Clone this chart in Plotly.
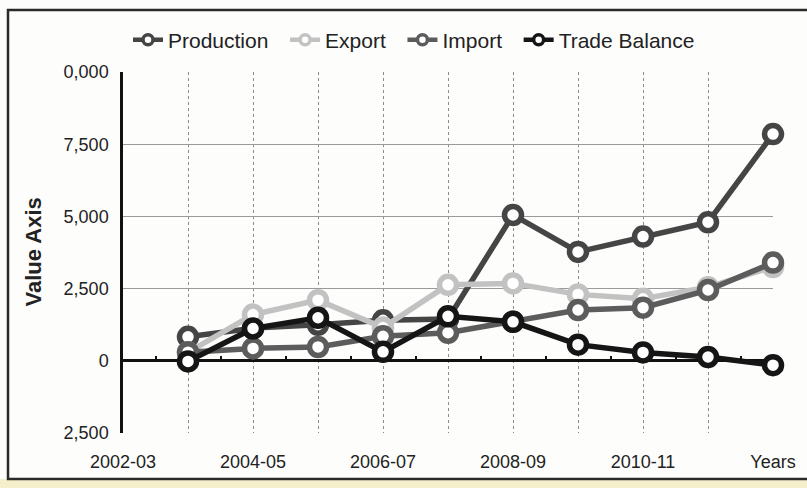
import plotly.graph_objects as go

categories = ["2002-03", "2003-04", "2004-05", "2005-06", "2006-07", "2007-08",
              "2008-09", "2009-10", "2010-11", "2011-12", "Years"]
periods = categories[1:]

production = [830, 1130, 1250, 1400, 1450, 5050, 3770, 4300, 4800, 7850]
export = [290, 1600, 2100, 1150, 2630, 2680, 2300, 2150, 2550, 3250]
imports = [300, 430, 480, 850, 970, 1350, 1760, 1840, 2450, 3400]
trade_balance = [-20, 1120, 1490, 310, 1540, 1350, 560, 290, 130, -150]

ytick_vals = [-2500, 0, 2500, 5000, 7500, 10000]
ytick_text = ["2,500", "0", "2,500", "5,000", "7,500", "0,000"]

xpos = [categories.index(p) for p in periods]
xtick_vals = list(range(len(categories)))
xtick_text = [c if i % 2 == 0 else "" for i, c in enumerate(categories)]

series = [
    ("Production", production, "#454545"),
    ("Export", export, "#c2c2c2"),
    ("Import", imports, "#5c5c5c"),
    ("Trade Balance", trade_balance, "#151515"),
]

fig = go.Figure()
for name, vals, col in series:
    fig.add_trace(go.Scatter(
        x=xpos, y=vals, name=name, mode="lines+markers",
        line=dict(color=col, width=5.5),
        marker=dict(symbol="circle", size=17, color="white",
                    line=dict(color=col, width=5.5)),
        cliponaxis=False, showlegend=False, legendgroup=name,
    ))
# legend entries (smaller symbols, as in the original legend)
for name, vals, col in series:
    fig.add_trace(go.Scatter(
        x=[None], y=[None], name=name + "\u00a0\u00a0", mode="lines+markers",
        line=dict(color=col, width=4.5),
        marker=dict(symbol="circle", size=10, color="white",
                    line=dict(color=col, width=3.5)),
        legendgroup=name, hoverinfo="skip",
    ))

# minor tick marks on the zero line between categories
fig.add_trace(go.Scatter(x=[0.5], y=[None], xaxis="x2", showlegend=False,
                         hoverinfo="skip"))

W, H = 807, 488
L, R, T, B = 123, 34, 72, 55
pw, ph = W - L - R, H - T - B


def px(x):
    return (x - L) / pw


def py(y):
    return (H - B - y) / ph


fig.update_layout(
    width=W, height=H,
    margin=dict(l=L, r=R, t=T, b=B),
    paper_bgcolor="#fdfdfc",
    plot_bgcolor="#fdfdfc",
    font=dict(family="Liberation Sans, Arial, sans-serif", color="#222"),
    showlegend=True,
    legend=dict(orientation="h", x=px(420), xanchor="center",
                y=py(40), yanchor="middle",
                font=dict(size=21, color="#222"),
                bgcolor="rgba(0,0,0,0)", itemclick=False),
    xaxis=dict(
        range=[0, 10], tickvals=xtick_vals, ticktext=xtick_text,
        showgrid=True, gridcolor="#8a8a8a", griddash="dot", gridwidth=1,
        zeroline=False, showline=False,
        ticks="outside", ticklen=12, tickcolor="rgba(0,0,0,0)",
        tickfont=dict(size=18, color="#222"),
    ),
    xaxis2=dict(
        range=[0, 10], overlaying="x", anchor="free",
        position=2500 / 12500, tickvals=[i + 0.5 for i in range(10)],
        ticks="inside", ticklen=5, tickwidth=1.5, tickcolor="#111",
        showticklabels=False, showgrid=False, zeroline=False, showline=False,
    ),
    yaxis=dict(
        range=[-2500, 10000], tickvals=ytick_vals, ticktext=ytick_text,
        showgrid=True, gridcolor="#9a9a9a", gridwidth=1,
        zeroline=True, zerolinecolor="#111", zerolinewidth=2.5,
        showline=True, linecolor="#111", linewidth=2.5,
        ticks="outside", ticklen=8, tickcolor="rgba(0,0,0,0)",
        tickfont=dict(size=18, color="#222"),
    ),
    annotations=[dict(
        text="<b>Value Axis</b>", textangle=-90, xref="paper", yref="paper",
        x=px(33), y=0.5, xanchor="center", yanchor="middle", showarrow=False,
        font=dict(size=22, color="#222"),
    )],
    shapes=[
        dict(type="rect", xref="paper", yref="paper", layer="below",
             x0=px(0), x1=px(807), y0=py(488), y1=py(479),
             fillcolor="#f6efcc", line=dict(width=0)),
        dict(type="rect", xref="paper", yref="paper",
             x0=px(8), x1=px(812), y0=py(479), y1=py(10),
             line=dict(color="#2a2a2a", width=2.5)),
    ],
)

fig.write_html("out.html")
